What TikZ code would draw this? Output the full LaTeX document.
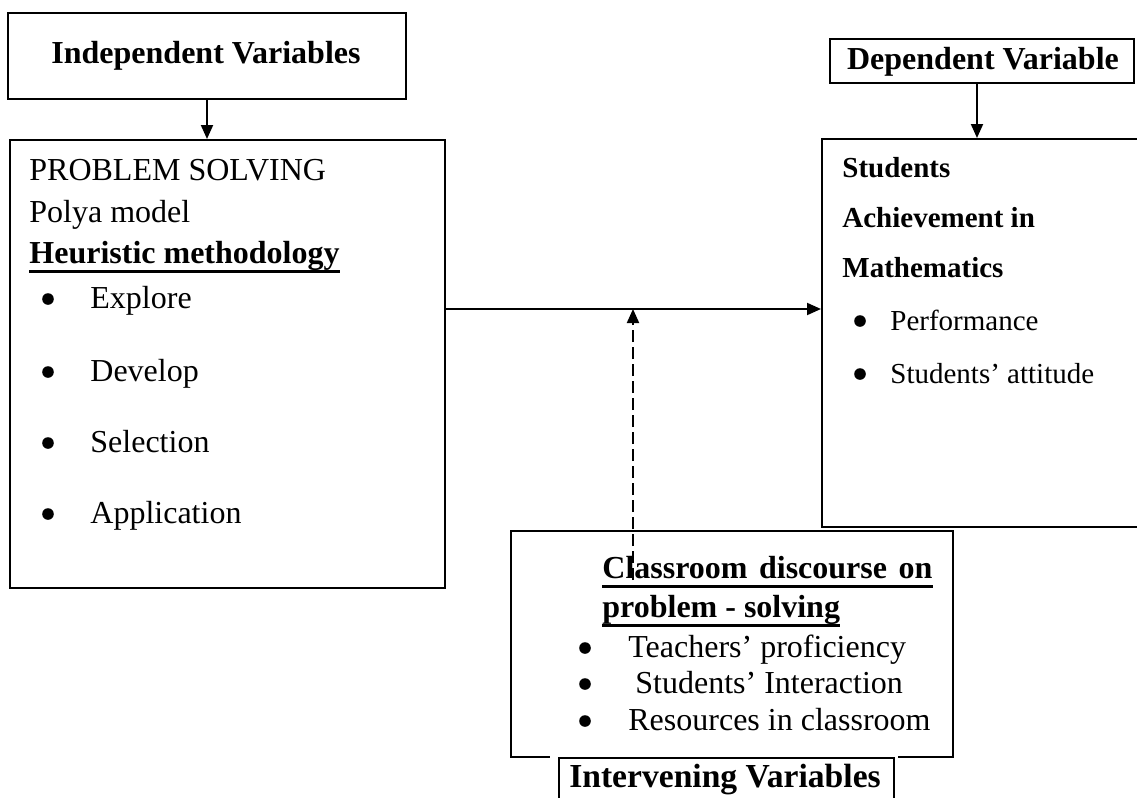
\documentclass[tikz,border=0pt]{standalone}
\usepackage{fontspec}
\setmainfont{Liberation Serif}
\usetikzlibrary{arrows.meta}
\tikzset{
  box/.style={draw, line width=1pt, rectangle, inner sep=0pt, anchor=north west},
  arr/.style={line width=1pt, -{Triangle[length=7pt,width=6pt]}},
  txt/.style={inner sep=0pt, anchor=base west, font=\fontsize{16}{19}\selectfont},
  txtb/.style={txt, font=\fontsize{16}{19}\selectfont\bfseries},
  rtxt/.style={inner sep=0pt, anchor=base west, font=\fontsize{14.5}{17}\selectfont},
  rtxtb/.style={rtxt, font=\fontsize{14.5}{17}\selectfont\bfseries},
  dot/.style={circle, fill=black, inner sep=0pt, minimum size=5.8pt},
  ul/.style={line width=1.5pt},
}
\begin{document}
\begin{tikzpicture}[x=0.5pt,y=-0.5pt]
\useasboundingbox (0,0) rectangle (1137,798);
% boxes
\node[box, minimum width=199pt, minimum height=43.25pt] (indep) at (7,11.5) {};
\node[inner sep=0pt, anchor=base, font=\fontsize{16}{19}\selectfont\bfseries] (indept) at (206,63) {Independent Variables};
\node[box, minimum width=152pt, minimum height=22pt] (dep) at (829,38) {};
\node[inner sep=0pt, anchor=base, font=\fontsize{16}{19}\selectfont\bfseries] (dept) at (983,69) {Dependent Variable};
\node[box, minimum width=217.5pt, minimum height=224pt] (prob) at (9,139) {};
\node[box, minimum width=165pt, minimum height=194pt] (stud) at (821,138) {};
\node[box, minimum width=221pt, minimum height=113pt] (class) at (510,530) {};
\fill[white] (550,752) rectangle (898,800);
\node[box, fill=white, minimum width=167.5pt, minimum height=30pt] (interv) at (558,757) {};
\node[inner sep=0pt, anchor=base, font=\fontsize{16.8}{19}\selectfont\bfseries] (intervt) at (725,787) {Intervening Variables};

% left box text
\node[txt] (ps) at (29,180) {PROBLEM SOLVING};
\node[txt] (polya) at (29,222) {Polya model};
\node[txtb] (heur) at (29,263) {Heuristic methodology};
\draw[ul] ([yshift=-4pt]heur.base west) -- ([yshift=-4pt]heur.base east);
\node[dot] (b1) at (48,299) {};
\node[txt] (l1) at (90,308) {Explore};
\node[dot] (b2) at (48,372) {};
\node[txt] (l2) at (90,381) {Develop};
\node[dot] (b3) at (48,443) {};
\node[txt] (l3) at (90,452) {Selection};
\node[dot] (b4) at (48,514) {};
\node[txt] (l4) at (90,523) {Application};

% right box text
\node[rtxtb] (r1) at (842,177) {Students};
\node[rtxtb] (r2) at (842,227) {Achievement in};
\node[rtxtb] (r3) at (842,277) {Mathematics};
\node[dot] (rb1) at (860,321) {};
\node[rtxt] (r4) at (890,330) {Performance};
\node[dot] (rb2) at (860,374) {};
\node[rtxt] (r5) at (890,383) {Students’ attitude};

% classroom box text
\node[txtb] (c1) at (602,578) {Classroom\hskip 0.36em discourse\hskip 0.36em on};
\draw[ul] ([yshift=-4pt]c1.base west) -- ([yshift=-4pt]c1.base east);
\node[txtb] (c2) at (602,617) {problem - solving};
\draw[ul] ([yshift=-4pt]c2.base west) -- ([yshift=-4pt]c2.base east);
\node[dot] (cb1) at (585,648) {};
\node[txt] (c3) at (628,657) {Teachers’ proficiency};
\node[dot] (cb2) at (585,684) {};
\node[txt] (c4) at (635,693) {Students’ Interaction};
\node[dot] (cb3) at (585,721) {};
\node[txt] (c5) at (628,730) {Resources in classroom};

% connectors
\coordinate (hy) at (0,309);
\coordinate (dashbot) at (633,580);
\draw[arr] (indep.south) -- (indep.south |- prob.north);
\draw[arr] ([xshift=-2.5pt]dep.south) -- ([xshift=-2.5pt]dep.south |- stud.north);
\draw[arr] (prob.east |- hy) -- (stud.west |- hy);
\draw[arr, dash pattern=on 6pt off 2.5pt] (dashbot) -- (dashbot |- hy);
\end{tikzpicture}
\end{document}
